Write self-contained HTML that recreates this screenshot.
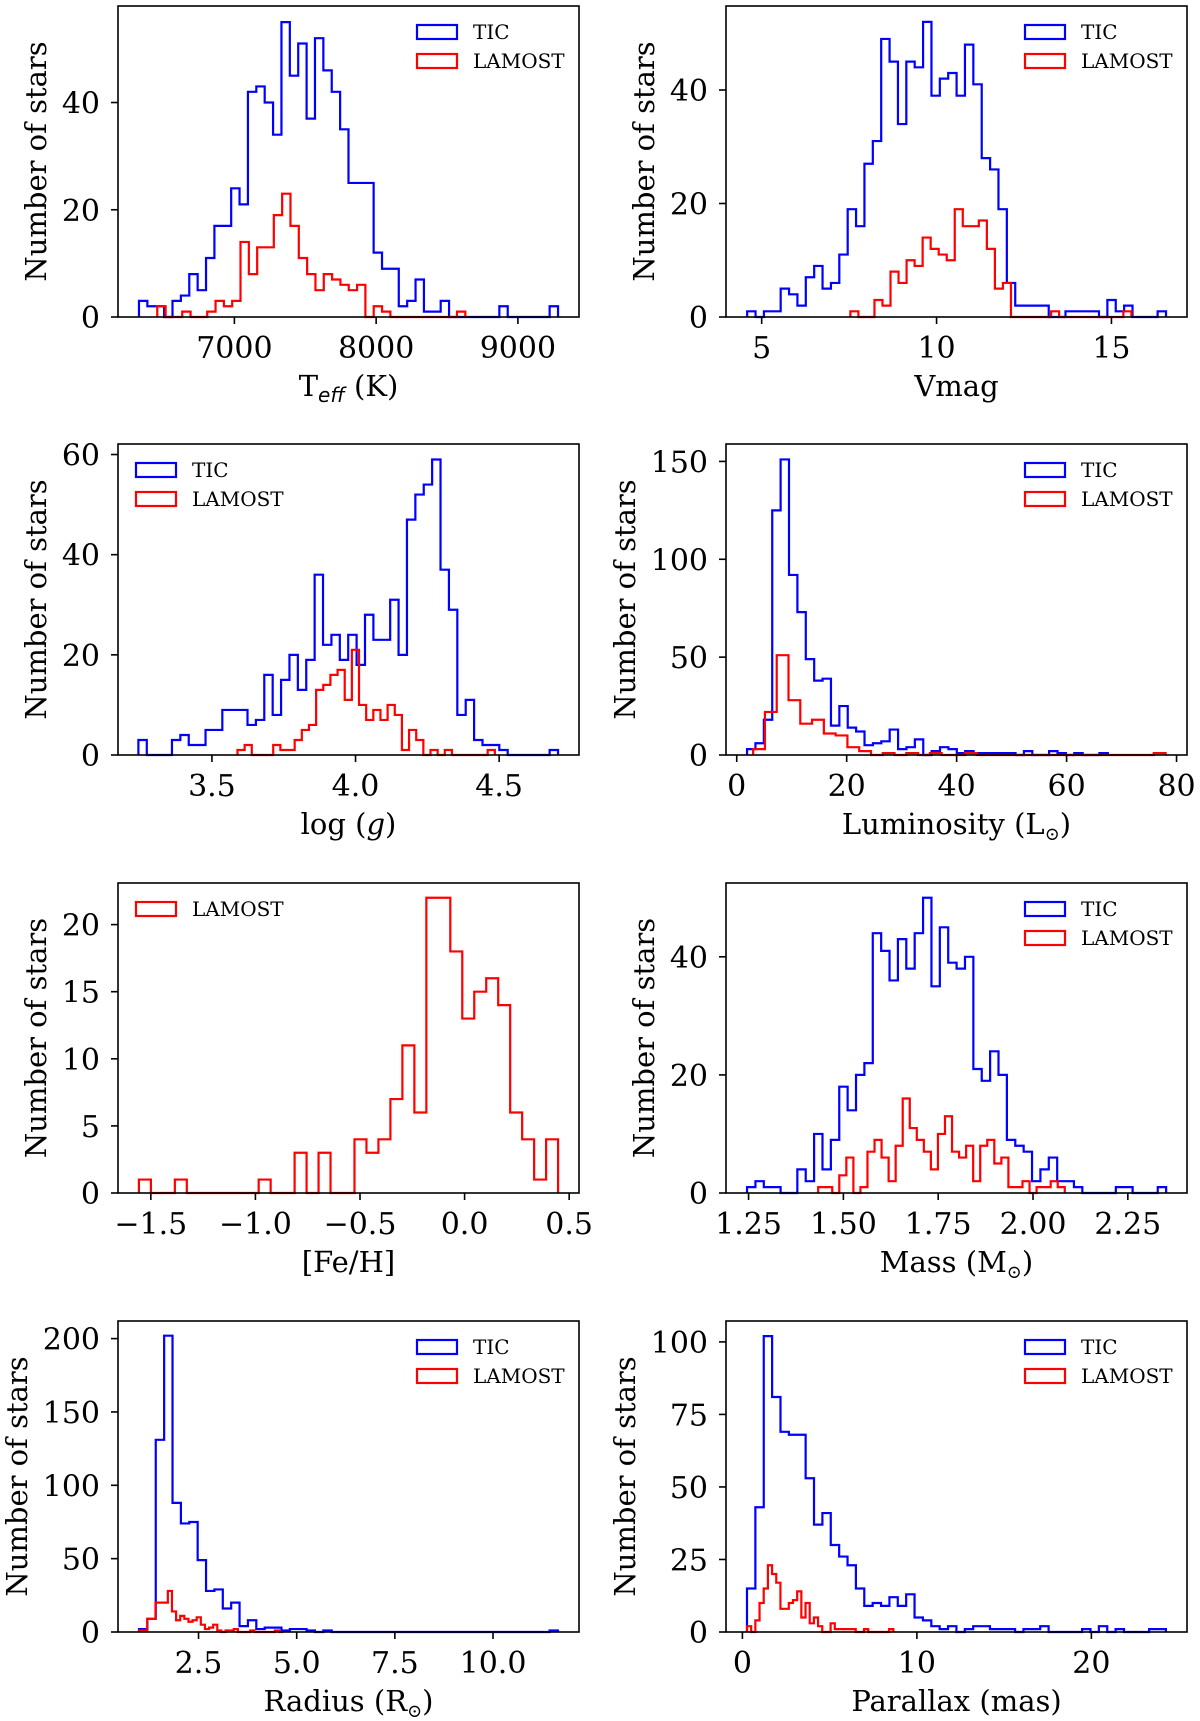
<!DOCTYPE html>
<html><head><meta charset="utf-8"><title>Stellar parameter histograms</title>
<style>
html,body{margin:0;padding:0;background:#fff;}
svg{display:block;}
text{font-family:"DejaVu Serif","Liberation Serif",serif;fill:#000;}
</style></head>
<body>
<svg id="fig" width="1200" height="1721" viewBox="0 0 1200 1721" xmlns="http://www.w3.org/2000/svg"></svg>
<script>
// ---- data (counts per bin, bin-range [min,max] of each series) ----
const teffTicCounts=[3,2,2,0,3,4,8,5,11,17,17,24,21,42,43,40,34,55,45,51,37,52,46,42,35,25,25,25,12,9,9,2,3,7,1,1,3,0,0,0,0,0,0,2,0,0,0,0,0,2];
const teffTicRange=[6327,9283];
const teffLamCounts=[2,0,0,1,0,0,1,3,2,3,14,8,13,13,19,23,17,11,8,5,8,7,6,5,6,0,2,1,0,0,0,0,0,0,0,0,1];
const teffLamRange=[6456,8629];
const teffXTicks=[7000,8000,9000];
const teffYTicks=[0,20,40];

const vmagTicCounts=[1,0,1,1,5,4,2,7,9,5,6,11,19,16,27,31,49,45,34,45,44,52,39,42,43,39,48,41,28,26,19,6,2,2,2,2,0,0,1,1,1,1,0,3,1,2,0,0,0,1];
const vmagTicRange=[4.585,16.56];
const vmagLamCounts=[1,0,0,3,2,8,6,10,9,14,12,11,10,19,16,16,17,12,5,6,0,0,0,0,0,1,0,0,0,0,0,0,0,0,1];
const vmagLamRange=[7.536,15.57];
const vmagXTicks=[5,10,15];
const vmagYTicks=[0,20,40];

const loggTicCounts=[3,0,0,0,3,4,2,2,5,5,9,9,9,6,7,16,8,15,20,13,19,36,22,24,19,24,18,28,23,23,31,20,47,52,54,59,37,29,8,11,3,2,2,1,0,0,0,0,0,1];
const loggTicRange=[3.244,4.705];
const loggLamCounts=[1,2,0,0,0,2,1,1,3,5,6,13,14,16,17,11,21,10,7,9,7,10,8,1,5,3,0,1,0,1,0,0,0,0,0,1];
const loggLamRange=[3.589,4.485];
const loggXTicks=[3.5,4.0,4.5];
const loggYTicks=[0,20,40,60];

const lumTicCounts=[3,6,18,125,151,92,73,49,38,39,15,25,14,12,5,6,7,13,3,4,8,0,2,4,3,1,2,1,1,1,1,1,0,2,0,0,2,1,0,1,0,0,1];
const lumTicRange=[1.88,67.5];
const lumLamCounts=[3,22,51,28,16,18,11,10,4,2,0,1,0,1,0,1,0,0,1,0,0,0,0,0,0,0,0,0,0,0,0,0,0,0,1];
const lumLamRange=[2.99,78.0];
const lumXTicks=[0,20,40,60,80];
const lumYTicks=[0,50,100,150];

const fehLamCounts=[1,0,0,1,0,0,0,0,0,0,1,0,0,3,0,3,0,0,4,3,4,7,11,6,22,22,18,13,15,16,14,6,4,1,4];
const fehLamRange=[-1.557,0.447];
const fehXTicks=[-1.5,-1.0,-0.5,0.0,0.5];
const fehYTicks=[0,5,10,15,20];

const massTicCounts=[1,2,1,1,0,0,4,2,10,4,9,18,14,20,22,44,41,36,43,38,44,50,35,45,39,38,40,21,19,24,20,9,8,7,2,4,6,2,2,1,0,0,0,0,1,1,0,0,0,1];
const massTicRange=[1.246,2.351];
const massLamCounts=[1,1,0,3,6,0,1,7,9,6,2,8,16,11,9,7,4,10,13,7,6,8,2,8,9,5,6,1,1,2,0,1,1,2,1];
const massLamRange=[1.4335,2.0837];
const massXTicks=[1.25,1.50,1.75,2.00,2.25];
const massYTicks=[0,20,40];

const radTicCounts=[2,9,131,202,88,74,75,49,28,29,16,20,4,8,2,3,3,1,2,2,1,0,1,0,0,0,0,0,0,0,0,0,0,0,0,0,0,0,0,0,0,0,0,0,0,0,0,0,0,1];
const radTicRange=[0.984,11.654];
const radLamCounts=[1,1,9,9,20,20,20,28,14,8,11,9,7,8,10,5,2,3,5,1,0,1,1,2,0,0,0,1,0,0,0,0,0,1,0];
const radLamRange=[0.984,4.657];
const radXTicks=[2.5,5.0,7.5,10.0];
const radYTicks=[0,50,100,150,200];

const plxTicCounts=[15,43,102,81,69,68,68,53,37,41,30,26,23,15,9,10,9,12,9,13,5,4,2,1,2,0,1,2,2,1,1,1,0,1,1,2,0,0,0,0,1,0,2,0,1,0,0,0,1,1];
const plxTicRange=[0.263,24.27];
const plxLamCounts=[2,0,4,10,15,23,20,17,8,8,10,11,14,5,10,3,5,2,0,0,3,1,1,1,1,1,0,0,1,0,0,0,0,0,1];
const plxLamRange=[0.263,8.65];
const plxXTicks=[0,10,20];
const plxYTicks=[0,25,50,75,100];

// ---- rendering ----
const NS="http://www.w3.org/2000/svg";
const svg=document.getElementById('fig');
function mk(tag,attrs,parent){const e=document.createElementNS(NS,tag);for(const k in attrs)e.setAttribute(k,attrs[k]);(parent||svg).appendChild(e);return e;}

function panel(cfg){
  const g=mk('g',{});
  
  
  const L=cfg.x0,R=cfg.x1,T=cfg.y0,B=cfg.y1;
  const sx=v=>L+(v-cfg.xlim[0])/(cfg.xlim[1]-cfg.xlim[0])*(R-L);
  const sy=v=>B-(v-0)/(cfg.ylim)*(B-T);
  cfg.series.forEach(s=>{
    const n=s.counts.length,w=(s.range[1]-s.range[0])/n;
    let pts=[[sx(s.range[0]),sy(0)]];
    s.counts.forEach((c,i)=>{const a=sx(s.range[0]+i*w),b=sx(s.range[0]+(i+1)*w);pts.push([a,sy(c)],[b,sy(c)]);});
    pts.push([sx(s.range[1]),sy(0)]);
    const p=mk('polyline',{points:pts.map(q=>q[0].toFixed(2)+','+q[1].toFixed(2)).join(' '),fill:'none',stroke:s.color,'stroke-width':2.2,'stroke-linejoin':'miter'},g);
    
    
  });
  const fr=mk('rect',{x:L,y:T,width:R-L,height:B-T,fill:'none',stroke:'#000','stroke-width':1.6},g);
  
  
  cfg.xticks.forEach(v=>{
    const x=sx(v);
    mk('line',{x1:x,y1:B,x2:x,y2:B+7,stroke:'#000','stroke-width':1.6},g);
    const t=mk('text',{x:x,y:B+41,'font-size':30,'text-anchor':'middle'},g);
    t.textContent=cfg.xfmt(v);
    
    
  });
  cfg.yticks.forEach(v=>{
    const y=sy(v);
    mk('line',{x1:L-7,y1:y,x2:L,y2:y,stroke:'#000','stroke-width':1.6},g);
    const t=mk('text',{x:L-18,y:y+11,'font-size':30,'text-anchor':'end'},g);
    t.textContent=String(v);
    
    
  });
  const xl=mk('text',{x:(L+R)/2,y:B+79,'font-size':29,'text-anchor':'middle'},g);
  xl.innerHTML=cfg.xlabel;
  
  
  const yx=L-cfg.ylabOff, yc=(T+B)/2;
  const yl=mk('text',{x:yx,y:yc,'font-size':29,'text-anchor':'middle',transform:'rotate(-90 '+yx+' '+yc+')'},g);
  yl.textContent='Number of stars';
  
  
  const lx=cfg.legendLeft?L+18:R-162;
  cfg.series.forEach((s,i)=>{
    const cy=T+26+i*29;
    const lg=mk('g',{},g);
    
    
    mk('rect',{x:lx,y:cy-7,width:40,height:14,fill:'none',stroke:s.color,'stroke-width':2.2},lg);
    const t=mk('text',{x:lx+56,y:cy+7,'font-size':20},lg);
    t.textContent=s.label;
  });
}
const fmtInt=v=>String(v);
const fmt1=v=>(v<0?'\u2212':'')+Math.abs(v).toFixed(1);
const fmt2=v=>v.toFixed(2);
const LX=[118,579],RX=[726,1187];
const ROWS=[[6,317],[444,755],[883,1193],[1321,1632]];
const BLUE='#0000ff',RED='#ff0000';

panel({name:'teff',x0:LX[0],x1:LX[1],y0:ROWS[0][0],y1:ROWS[0][1],xlim:[6179,9431],ylim:58,xticks:teffXTicks,yticks:teffYTicks,xfmt:fmtInt,ylabOff:72,
  xlabel:'T<tspan font-size="20" font-style="italic" dy="6" font-family="DejaVu Sans">eff</tspan><tspan dy="-6"> (K)</tspan>',
  series:[{label:'TIC',color:BLUE,counts:teffTicCounts,range:teffTicRange},{label:'LAMOST',color:RED,counts:teffLamCounts,range:teffLamRange}]});
panel({name:'vmag',x0:RX[0],x1:RX[1],y0:ROWS[0][0],y1:ROWS[0][1],xlim:[3.98,17.16],ylim:54.8,xticks:vmagXTicks,yticks:vmagYTicks,xfmt:fmtInt,ylabOff:72,
  xlabel:'Vmag',
  series:[{label:'TIC',color:BLUE,counts:vmagTicCounts,range:vmagTicRange},{label:'LAMOST',color:RED,counts:vmagLamCounts,range:vmagLamRange}]});
panel({name:'logg',x0:LX[0],x1:LX[1],y0:ROWS[1][0],y1:ROWS[1][1],xlim:[3.173,4.778],ylim:62.1,xticks:loggXTicks,yticks:loggYTicks,xfmt:fmt1,ylabOff:72,legendLeft:true,
  xlabel:'log (<tspan font-style="italic">g</tspan>)',
  series:[{label:'TIC',color:BLUE,counts:loggTicCounts,range:loggTicRange},{label:'LAMOST',color:RED,counts:loggLamCounts,range:loggLamRange}]});
panel({name:'luminosity',x0:RX[0],x1:RX[1],y0:ROWS[1][0],y1:ROWS[1][1],xlim:[-1.95,81.9],ylim:158.9,xticks:lumXTicks,yticks:lumYTicks,xfmt:fmtInt,ylabOff:91,
  xlabel:'Luminosity (L<tspan font-size="18" dy="6">\u2299</tspan><tspan dy="-6">)</tspan>',
  series:[{label:'TIC',color:BLUE,counts:lumTicCounts,range:lumTicRange},{label:'LAMOST',color:RED,counts:lumLamCounts,range:lumLamRange}]});
panel({name:'feh',x0:LX[0],x1:LX[1],y0:ROWS[2][0],y1:ROWS[2][1],xlim:[-1.657,0.547],ylim:23.1,xticks:fehXTicks,yticks:fehYTicks,xfmt:fmt1,ylabOff:72,legendLeft:true,
  xlabel:'[Fe/H]',
  series:[{label:'LAMOST',color:RED,counts:fehLamCounts,range:fehLamRange}]});
panel({name:'mass',x0:RX[0],x1:RX[1],y0:ROWS[2][0],y1:ROWS[2][1],xlim:[1.1905,2.406],ylim:52.5,xticks:massXTicks,yticks:massYTicks,xfmt:fmt2,ylabOff:72,
  xlabel:'Mass (M<tspan font-size="18" dy="6">\u2299</tspan><tspan dy="-6">)</tspan>',
  series:[{label:'TIC',color:BLUE,counts:massTicCounts,range:massTicRange},{label:'LAMOST',color:RED,counts:massLamCounts,range:massLamRange}]});
panel({name:'radius',x0:LX[0],x1:LX[1],y0:ROWS[3][0],y1:ROWS[3][1],xlim:[0.449,12.19],ylim:212,xticks:radXTicks,yticks:radYTicks,xfmt:fmt1,ylabOff:91,
  xlabel:'Radius (R<tspan font-size="18" dy="6">\u2299</tspan><tspan dy="-6">)</tspan>',
  series:[{label:'TIC',color:BLUE,counts:radTicCounts,range:radTicRange},{label:'LAMOST',color:RED,counts:radLamCounts,range:radLamRange}]});
panel({name:'parallax',x0:RX[0],x1:RX[1],y0:ROWS[3][0],y1:ROWS[3][1],xlim:[-0.94,25.48],ylim:107.2,xticks:plxXTicks,yticks:plxYTicks,xfmt:fmtInt,ylabOff:91,
  xlabel:'Parallax (mas)',
  series:[{label:'TIC',color:BLUE,counts:plxTicCounts,range:plxTicRange},{label:'LAMOST',color:RED,counts:plxLamCounts,range:plxLamRange}]});
</script>
</body></html>
